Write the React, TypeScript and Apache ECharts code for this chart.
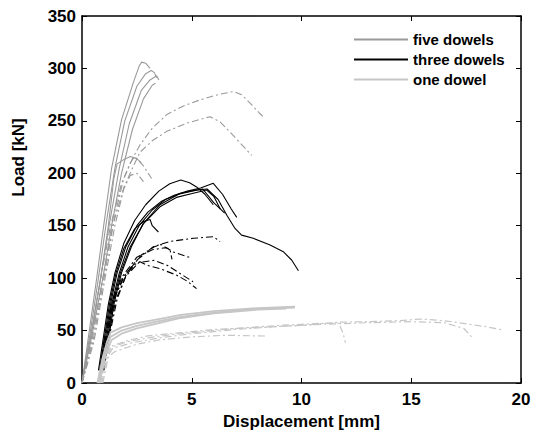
import React, { useEffect, useRef } from "react";
import * as echarts from "echarts";

// x: displacement [mm], y: load [kN]
const xTicks = [0, 5, 10, 15, 20];
const yTicks = [0, 50, 100, 150, 200, 250, 300, 350];
const legendNames = ["five dowels", "three dowels", "one dowel"];

// five dowels — solid
const five1 = [[0,0],[0.3,45],[0.67,100],[1.0,152],[1.35,205],[1.8,251],[2.33,286],[2.6,302],[2.72,306],[2.9,305],[3.1,300]];
const five2 = [[0,0],[0.35,45],[0.75,100],[1.1,152],[1.5,205],[1.95,250],[2.5,283],[2.9,295],[3.15,298],[3.3,296],[3.4,291]];
const five3 = [[0,0],[0.4,45],[0.85,100],[1.25,152],[1.7,205],[2.15,247],[2.7,279],[3.1,289],[3.4,293],[3.5,289]];
const five4 = [[0,0],[0.45,45],[0.95,100],[1.35,150],[1.8,200],[2.3,242],[2.8,271],[3.2,284],[3.35,286]];
const five5 = [[0,0],[0.4,45],[0.85,100],[1.2,150],[1.45,195],[1.6,209],[1.9,213],[2.2,216],[2.5,214],[2.7,210]];
// five dowels — dash-dot
const fiveDD1 = [[0,0],[0.4,40],[0.85,100],[1.3,150],[1.8,190],[2.3,214],[2.64,227],[3.2,243],[3.86,256],[4.6,264],[5.38,270],[6.2,275],[6.9,278],[7.27,275],[7.7,266],[8.1,257],[8.3,253]];
const fiveDD2 = [[0,0],[0.45,40],[0.95,100],[1.4,150],[1.9,186],[2.3,205],[2.64,220],[3.2,231],[3.86,240],[4.8,248],[5.83,254],[6.29,249],[6.8,238],[7.2,229],[7.73,217]];
const fiveDD3 = [[0,0],[0.5,40],[1.0,100],[1.5,160],[1.9,195],[2.2,210],[2.4,216],[2.8,207],[3.17,195]];
const fiveDD4 = [[0,0],[0.55,40],[1.05,100],[1.5,150],[1.9,185],[2.2,198],[2.5,200],[2.8,192]];

// three dowels — solid
const three1 = [[0.75,12],[0.95,40],[1.2,75],[1.5,105],[1.9,133],[2.4,155],[2.9,170],[3.5,183],[4.0,190],[4.5,193.6],[4.9,191],[5.22,187],[5.6,180],[5.98,170]];
const three2 = [[0.85,12],[1.05,40],[1.3,75],[1.6,105],[2.0,130],[2.5,150],[3.0,163],[3.6,173],[4.2,179],[4.8,183],[5.4,186],[5.98,190.4],[6.4,180],[6.8,166],[7.05,158]];
const three3 = [[0.9,15],[1.1,40],[1.35,75],[1.7,105],[2.1,130],[2.6,150],[3.2,165],[3.8,175],[4.5,181],[5.2,184],[5.7,185],[6.2,175],[6.6,160],[6.95,148],[7.27,141],[7.8,138],[8.57,131.6],[9.17,125.2],[9.55,117.3],[9.86,107]];
const three4 = [[0.8,12],[1.0,40],[1.25,75],[1.55,105],[1.9,128],[2.4,147],[2.8,154],[3.1,156],[3.2,150],[3.48,144]];
const three5 = [[0.95,15],[1.15,40],[1.4,75],[1.75,105],[2.2,130],[2.8,152],[3.55,168],[4.3,177],[5.07,181],[5.68,184],[6.0,178],[6.3,166]];
const three6 = [[1.0,18],[1.2,40],[1.45,75],[1.8,105],[2.25,130],[2.79,152],[3.55,170],[4.4,180],[5.0,183],[5.5,185],[6.0,172],[6.5,162]];
// three dowels — dash-dot
const threeDD1 = [[0.9,10],[1.1,40],[1.5,82],[1.88,101],[2.49,117],[3.25,130],[4.0,135],[5.07,138],[5.98,139.5],[6.29,135]];
const threeDD2 = [[0.85,10],[1.05,40],[1.45,80],[1.9,100],[2.4,113],[2.64,115.7],[3.0,112],[3.55,109],[4.3,103],[4.8,97],[5.22,90]];
const threeDD3 = [[0.95,12],[1.15,40],[1.55,80],[2.0,102],[2.6,115],[3.3,117],[3.9,112],[4.5,104],[5.06,96.6]];
const threeDD4 = [[1.0,12],[1.2,40],[1.6,80],[2.05,105],[2.7,122],[3.3,130],[3.6,132],[4.16,125],[5.0,119]];
const threeDD5 = [[0.8,10],[1.0,40],[1.4,80],[1.85,102],[2.5,120],[3.2,127],[3.8,129],[4.0,128],[4.1,118]];

// one dowel — solid
const one1 = [[0.7,0],[0.95,25],[1.15,40],[1.3,48],[1.8,53],[2.5,57],[3.5,61],[4.5,65],[6,68.5],[8,71.5],[9.7,72.7]];
const one2 = [[0.75,0],[1.0,25],[1.2,38],[1.3,44],[1.8,50],[2.5,54.5],[3.5,59],[4.5,63],[6,67],[8,70.5],[9.7,72]];
const one3 = [[0.8,0],[1.05,25],[1.25,36],[1.35,41],[1.8,47],[2.5,52],[3.5,57],[4.5,62],[6,66.5],[8,70],[9.3,71]];
// one dowel — dash-dot
const oneDD1 = [[0.8,0],[1.05,25],[1.3,35],[2,40],[3,45],[4,47],[5,49],[6,51],[8,53],[10,55],[11.75,58],[13,58.5],[14.5,59.5],[15.4,61],[16.2,60],[17,58],[18.4,53.7],[19.2,50.5]];
const oneDD2 = [[0.85,0],[1.1,25],[1.35,34],[2,39],[3,43],[4,46],[5,48],[6,50],[7,52],[8,53.5],[9,55],[10,56],[11,57],[11.7,57],[11.9,47],[12,38.5]];
const oneDD3 = [[0.9,0],[1.15,25],[1.4,33],[2.2,38],[3.5,43],[5,47],[7,51],[9,54],[11,56],[13,57.5],[15,58.5],[16.5,57.5],[17.4,52],[17.75,44]];
const oneDD4 = [[0.95,0],[1.2,25],[1.5,30],[2.5,37],[3.5,41],[5,44],[6.5,45.5],[8.4,44.8]];

const FIVE = "#9a9a9a";
const THREE = "#000000";
const ONE = "#c6c6c6";
const DASHDOT = [7, 3, 2, 3];

function mk(name: string, data: number[][], color: string, dashed: boolean, width: number) {
  return {
    name,
    type: "line",
    data,
    showSymbol: false,
    symbol: "none",
    smooth: false,
    color,
    itemStyle: { color },
    lineStyle: { color, width, type: dashed ? DASHDOT : "solid" },
    silent: true,
  };
}

export default function App() {
  const ref = useRef<HTMLDivElement>(null);
  useEffect(() => {
    if (!ref.current) return;
    const chart = echarts.init(ref.current, undefined, { renderer: "svg" });
    const font = "'Liberation Sans', Arial, Helvetica, sans-serif";
    const series = [
      ...[five1, five2, five3, five4, five5].map((d) => mk(legendNames[0], d, FIVE, false, 1.1)),
      ...[fiveDD1, fiveDD2, fiveDD3, fiveDD4].map((d) => mk(legendNames[0], d, FIVE, true, 1.1)),
      ...[three1, three2, three3, three4, three5, three6].map((d) => mk(legendNames[1], d, THREE, false, 1.1)),
      ...[threeDD1, threeDD2, threeDD3, threeDD4, threeDD5].map((d) => mk(legendNames[1], d, THREE, true, 1.1)),
      ...[one1, one2, one3].map((d) => mk(legendNames[2], d, ONE, false, 1.8)),
      ...[oneDD1, oneDD2, oneDD3, oneDD4].map((d) => mk(legendNames[2], d, ONE, true, 1.2)),
    ];
    const axisCommon = {
      axisLine: { show: true, onZero: false, lineStyle: { color: "#000", width: 1.5 } },
      axisTick: { show: true, inside: true, length: 5, lineStyle: { color: "#000", width: 1 } },
      splitLine: { show: false },
    };
    chart.setOption({
      animation: false,
      backgroundColor: "#fff",
      grid: { left: 82, right: 16, top: 16, bottom: 55, containLabel: false },
      legend: {
        data: legendNames,
        orient: "vertical",
        left: 349,
        top: 27,
        icon: "rect",
        itemWidth: 54,
        itemHeight: 2,
        itemGap: 5,
        textStyle: { color: "#000", fontSize: 15, fontFamily: font, fontWeight: "bold", lineHeight: 15 },
        selectedMode: false,
      },
      xAxis: [
        {
          type: "value",
          min: 0,
          max: 20,
          interval: 5,
          ...axisCommon,
          axisLabel: { show: true, color: "#000", fontSize: 17, fontWeight: "bold", fontFamily: font, margin: 8 },
          name: "Displacement [mm]",
          nameLocation: "middle",
          nameGap: 27,
          nameTextStyle: { color: "#000", fontSize: 17, fontWeight: "bold", fontFamily: font, verticalAlign: "top" },
        },
        {
          type: "value",
          position: "top",
          min: 0,
          max: 20,
          interval: 5,
          ...axisCommon,
          axisLabel: { show: false },
        },
      ],
      yAxis: [
        {
          type: "value",
          min: 0,
          max: 350,
          interval: 50,
          ...axisCommon,
          axisLabel: { show: true, color: "#000", fontSize: 17, fontWeight: "bold", fontFamily: font, margin: 6 },
          name: "Load [kN]",
          nameLocation: "middle",
          nameGap: 55,
          nameTextStyle: { color: "#000", fontSize: 17, fontWeight: "bold", fontFamily: font, padding: [0, 0, 0, 84] },
        },
        {
          type: "value",
          position: "right",
          min: 0,
          max: 350,
          interval: 50,
          ...axisCommon,
          axisLabel: { show: false },
        },
      ],
      series,
    });
    return () => chart.dispose();
  }, []);
  return <div ref={ref} style={{ width: 537, height: 438, position: "absolute", left: 0, top: 0 }} />;
}
